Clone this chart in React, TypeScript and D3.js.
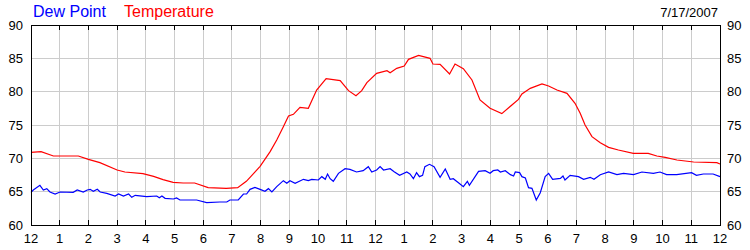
import React from "react";
import * as d3 from "d3";

const hourLabels = ["12","1","2","3","4","5","6","7","8","9","10","11","12","1","2","3","4","5","6","7","8","9","10","11","12"];
const yTicks = [60, 65, 70, 75, 80, 85, 90];

const tempTime = [0,0.35,0.78,1.65,2.0,2.4,3.0,3.27,3.9,4.27,4.6,4.95,5.3,5.7,6.17,6.8,7.2,7.5,7.63,7.98,8.33,8.56,8.79,8.97,9.14,9.37,9.66,9.95,10.28,10.77,11.06,11.32,11.52,11.7,12.04,12.4,12.51,12.74,13.0,13.15,13.5,13.9,14.0,14.25,14.58,14.77,15.06,15.36,15.64,15.99,16.4,16.98,17.1,17.39,17.8,18.03,18.32,18.67,18.95,19.13,19.3,19.54,19.83,20.12,20.46,20.98,21.5,21.8,22.09,22.5,23.08,23.89,24];
const tempValue = [70.9,71.0,70.35,70.35,69.85,69.35,68.25,67.95,67.7,67.3,66.8,66.4,66.3,66.3,65.6,65.5,65.6,66.55,67.15,68.8,71.0,72.75,74.75,76.35,76.6,77.65,77.5,80.25,81.95,81.65,80.15,79.4,80.15,81.35,82.75,83.15,82.85,83.5,83.85,84.85,85.45,85.0,84.15,84.1,82.65,84.15,83.45,81.75,78.75,77.5,76.7,78.85,79.65,80.5,81.15,80.85,80.25,79.75,78.25,76.75,75.0,73.25,72.35,71.65,71.25,70.75,70.75,70.35,70.15,69.75,69.45,69.35,69.15];

const dewTime = [0,0.08,0.31,0.43,0.55,0.66,0.84,1.01,1.47,1.61,1.82,1.96,2.06,2.17,2.31,2.41,2.64,2.93,3.05,3.22,3.4,3.51,3.63,4.03,4.38,4.47,4.56,4.67,4.96,5.07,5.19,5.77,6.12,6.58,6.82,6.93,7.22,7.4,7.51,7.63,7.8,7.98,8.15,8.27,8.39,8.56,8.79,8.91,9.02,9.2,9.49,9.66,9.78,10.01,10.13,10.25,10.33,10.42,10.53,10.71,10.94,11.11,11.34,11.57,11.75,11.87,12.04,12.16,12.28,12.51,12.65,12.84,13.09,13.2,13.32,13.43,13.53,13.64,13.72,13.88,14.04,14.25,14.43,14.6,14.71,14.89,15.06,15.2,15.27,15.59,15.82,15.99,16.1,16.26,16.35,16.52,16.7,16.81,16.87,17.02,17.1,17.22,17.33,17.45,17.6,17.74,17.91,18.03,18.17,18.44,18.53,18.6,18.78,19.07,19.25,19.48,19.61,19.83,20.12,20.41,20.64,20.99,21.28,21.68,21.91,22.14,22.49,23.01,23.18,23.42,23.76,24];
const dewValue = [64.9,65.25,65.95,65.25,65.45,64.95,64.65,64.95,64.9,65.25,64.95,65.25,65.35,65.05,65.35,64.95,64.75,64.35,64.65,64.35,64.65,64.15,64.45,64.25,64.35,64.1,64.35,64.0,63.9,64.05,63.75,63.75,63.35,63.45,63.45,63.75,63.75,64.65,64.65,65.35,65.65,65.35,65.05,65.45,64.95,65.75,66.65,66.25,66.65,66.25,66.85,66.65,66.85,66.75,67.25,66.85,67.65,66.95,66.55,67.75,68.45,68.35,67.95,68.15,68.75,67.95,68.25,68.75,68.25,68.45,68.0,67.45,67.95,67.65,66.95,67.85,67.25,67.45,68.75,69.1,68.75,67.15,68.4,66.85,66.95,66.35,65.75,66.55,65.95,68.05,68.15,67.75,68.15,68.25,67.95,68.15,67.55,67.35,67.95,67.85,67.25,67.05,65.6,65.5,63.75,64.85,67.25,67.75,66.85,67.0,67.35,66.75,67.45,67.25,66.85,67.15,66.85,67.55,67.95,67.55,67.75,67.55,67.95,67.75,67.95,67.55,67.55,67.85,67.45,67.65,67.65,67.25];

const W = 750, H = 250;
const left = 31, right = 720, top = 25, bottom = 225;
const font = "Arial, 'Liberation Sans', sans-serif";

export default function App() {
  const x = d3.scaleLinear().domain([0, 24]).range([left, right]);
  const y = d3.scaleLinear().domain([60, 90]).range([bottom, top]);
  const line = d3.line<[number, number]>().x(d => x(d[0])).y(d => y(d[1]));
  const tempPts = tempTime.map((t, i) => [t, tempValue[i]] as [number, number]);
  const dewPts = dewTime.map((t, i) => [t, dewValue[i]] as [number, number]);
  const hours = d3.range(0, 25);
  return (
    <svg width={W} height={H} style={{ position: "absolute", left: 0, top: 0, background: "#fff" }} fontFamily={font}>
      <rect x={0} y={0} width={W} height={H} fill="#fff" />
      {hours.slice(1, 24).map(h => (
        <line key={"vg" + h} x1={x(h)} x2={x(h)} y1={top} y2={bottom} stroke="#cccccc" strokeWidth={1} shapeRendering="crispEdges" />
      ))}
      {yTicks.slice(1, -1).map(v => (
        <line key={"hg" + v} x1={left} x2={right} y1={y(v)} y2={y(v)} stroke="#cccccc" strokeWidth={1} shapeRendering="crispEdges" />
      ))}
      <path d={line(tempPts) || ""} fill="none" stroke="#ff0000" strokeWidth={1.2} />
      <path d={line(dewPts) || ""} fill="none" stroke="#0000ff" strokeWidth={1.2} />
      <rect x={left} y={top} width={right - left} height={bottom - top} fill="none" stroke="#000" strokeWidth={1} shapeRendering="crispEdges" />
      {hours.slice(1, 24).map(h => (
        <g key={"tk" + h}>
          <line x1={x(h)} x2={x(h)} y1={top} y2={top + 5} stroke="#000" shapeRendering="crispEdges" />
          <line x1={x(h)} x2={x(h)} y1={bottom} y2={bottom - 5} stroke="#000" shapeRendering="crispEdges" />
        </g>
      ))}
      {hours.map((h, i) => (
        <text key={"xl" + h} x={x(h)} y={243} textAnchor="middle" fontSize={13} fill="#000">{hourLabels[i]}</text>
      ))}
      {yTicks.map(v => (
        <g key={"yl" + v}>
          <text x={23} y={y(v) + 4.5} textAnchor="end" fontSize={13} fill="#000">{v}</text>
          <text x={727} y={y(v) + 4.5} textAnchor="start" fontSize={13} fill="#000">{v}</text>
        </g>
      ))}
      <text x={33} y={17} fontSize={16} fill="#0000ff">Dew Point</text>
      <text x={124} y={17} fontSize={16} fill="#ff0000">Temperature</text>
      <text x={718} y={17} textAnchor="end" fontSize={13} fill="#000">7/17/2007</text>
    </svg>
  );
}
